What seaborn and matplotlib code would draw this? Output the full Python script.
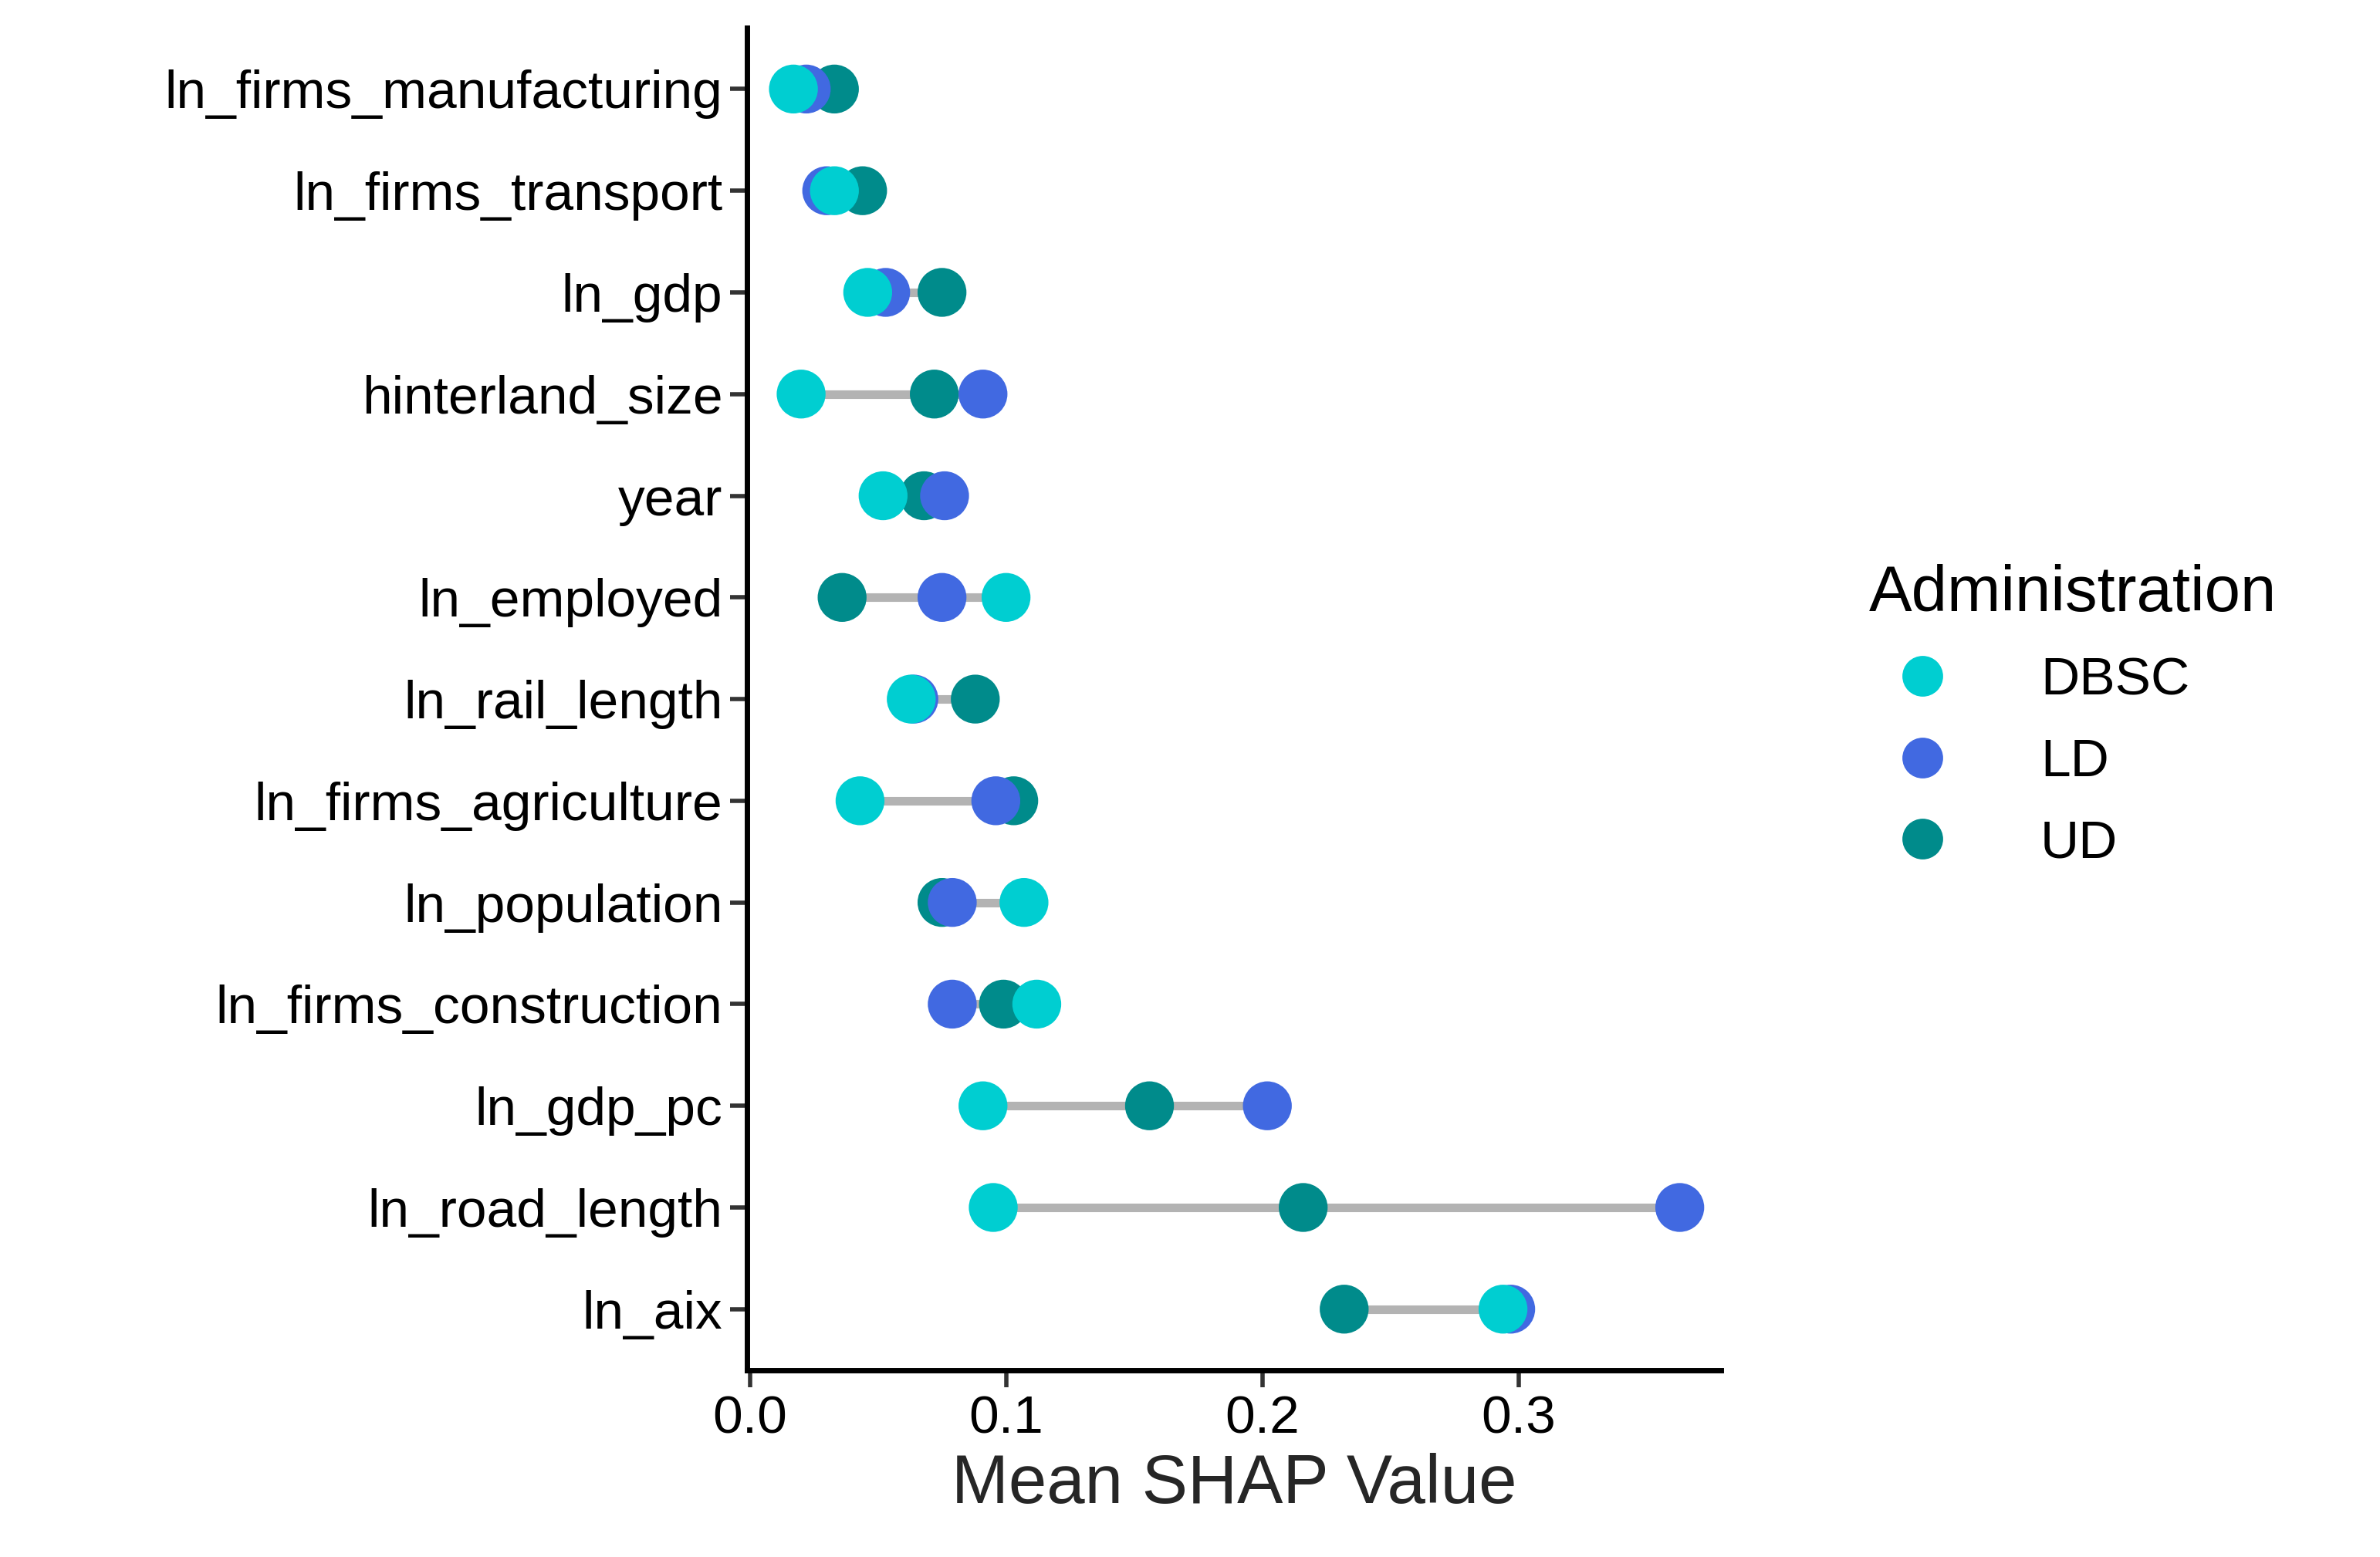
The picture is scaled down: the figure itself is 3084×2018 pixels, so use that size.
import matplotlib
matplotlib.use("Agg")
import matplotlib.pyplot as plt
import pandas as pd
import seaborn as sns

features = ["ln_firms_manufacturing", "ln_firms_transport", "ln_gdp", "hinterland_size",
            "year", "ln_employed", "ln_rail_length", "ln_firms_agriculture", "ln_population",
            "ln_firms_construction", "ln_gdp_pc", "ln_road_length", "ln_aix"]
dbsc = [0.017, 0.033, 0.046, 0.020, 0.052, 0.100, 0.063, 0.043, 0.107, 0.112, 0.091, 0.095, 0.294]
ld = [0.022, 0.030, 0.053, 0.091, 0.076, 0.075, 0.064, 0.096, 0.079, 0.079, 0.202, 0.363, 0.297]
ud = [0.033, 0.044, 0.075, 0.072, 0.068, 0.036, 0.088, 0.103, 0.075, 0.099, 0.156, 0.216, 0.232]

colors = {"DBSC": "#00CED1", "LD": "#4169E1", "UD": "#008B8B"}

df = pd.DataFrame({"feature": features, "DBSC": dbsc, "LD": ld, "UD": ud})
long = df.melt(id_vars="feature", var_name="Administration", value_name="shap")

sns.set_style("ticks")
plt.rcParams["font.family"] = ["Liberation Sans", "DejaVu Sans"]
plt.rcParams["text.color"] = "black"
plt.rcParams["xtick.color"] = "black"
plt.rcParams["ytick.color"] = "black"

fig = plt.figure(figsize=(15.42, 10.09), dpi=200)
ax = fig.add_axes([0.314, 0.12, 0.409, 0.862])

# grey segment from min to max
ax.hlines(df["feature"], df[["DBSC", "LD", "UD"]].min(axis=1), df[["DBSC", "LD", "UD"]].max(axis=1),
          color="#b3b3b3", linewidth=4, zorder=1)

# draw UD, LD, DBSC so DBSC is on top
for name in ["UD", "LD", "DBSC"]:
    sub = long[long["Administration"] == name]
    sns.scatterplot(data=sub, x="shap", y="feature", color=colors[name], s=520,
                    edgecolor="none", ax=ax, zorder=2, legend=False)

ax.set_ylim(len(features) - 0.4, -0.6)
ax.set_xlim(-0.001, 0.379)
ax.set_xticks([0.0, 0.1, 0.2, 0.3])
ax.set_xticklabels(["0.0", "0.1", "0.2", "0.3"])
ax.set_xlabel("Mean SHAP Value", fontsize=32, labelpad=4)
ax.set_ylabel("")
ax.tick_params(axis="both", labelsize=25, width=2, length=8, color="#333333")
for s in ["left", "bottom"]:
    ax.spines[s].set_linewidth(2.5)
    ax.spines[s].set_color("black")
sns.despine(ax=ax)

handles = [plt.Line2D([], [], marker="o", linestyle="none", markersize=19,
                      markerfacecolor=colors[n], markeredgecolor="none") for n in ["DBSC", "LD", "UD"]]
leg = fig.legend(handles, ["DBSC", "LD", "UD"], title="Administration", loc="center left",
                 bbox_to_anchor=(0.765, 0.54), frameon=False, fontsize=25,
                 title_fontsize=30, labelspacing=0.6, handletextpad=1.2)
leg._legend_box.align = "left"

fig.savefig("out.png", dpi=200)
